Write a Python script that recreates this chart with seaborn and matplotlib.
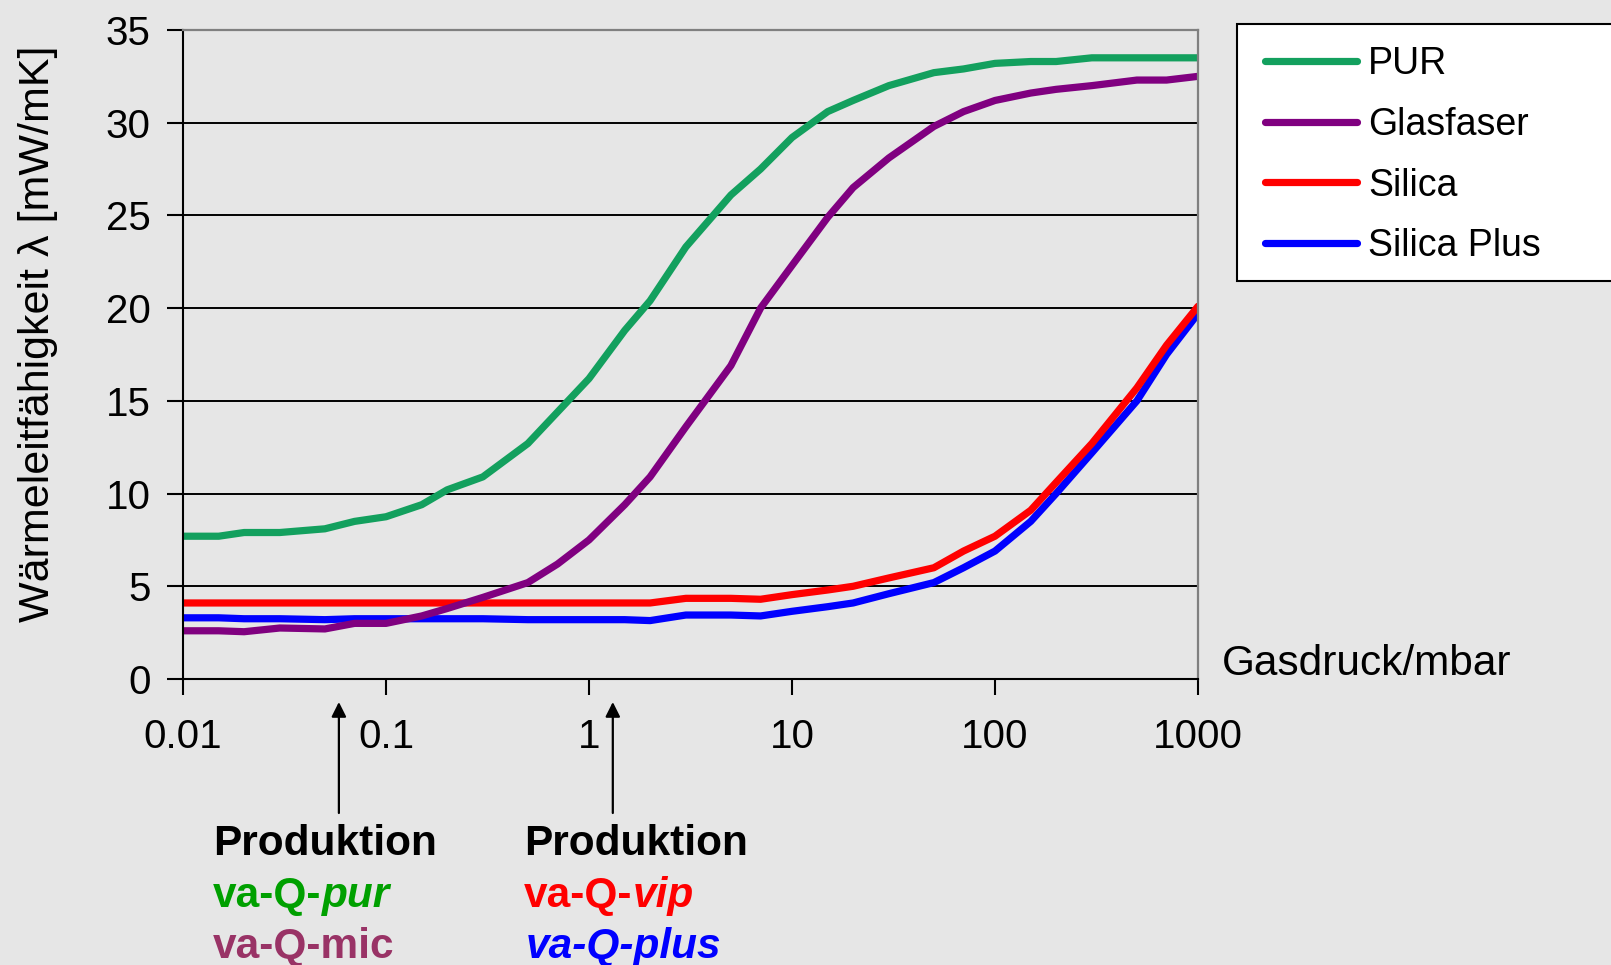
import pandas as pd
import matplotlib.pyplot as plt
import seaborn as sns
import numpy as np
from matplotlib.patches import Rectangle
from matplotlib.ticker import FixedLocator, FixedFormatter, NullLocator

# gas pressure in mbar (shared by all series)
pressure = [0.01, 0.015, 0.02, 0.03, 0.05, 0.07, 0.1, 0.15, 0.2, 0.3, 0.5, 0.7,
            1, 1.5, 2, 3, 5, 7, 10, 15, 20, 30, 50, 70, 100, 150, 200, 300, 500, 700, 1000]

# thermal conductivity in mW/mK
pur = [7.7, 7.7, 7.9, 7.9, 8.1, 8.5, 8.75, 9.4, 10.2, 10.9, 12.7, 14.4,
       16.2, 18.8, 20.4, 23.3, 26.1, 27.5, 29.2, 30.6, 31.2, 32.0, 32.7, 32.9, 33.2, 33.3, 33.3, 33.5, 33.5, 33.5, 33.5]
glasfaser = [2.6, 2.6, 2.55, 2.75, 2.7, 3.0, 3.0, 3.4, 3.8, 4.4, 5.2, 6.2,
             7.5, 9.4, 10.9, 13.6, 16.9, 20.0, 22.3, 24.9, 26.5, 28.1, 29.8, 30.6, 31.2, 31.6, 31.8, 32.0, 32.3, 32.3, 32.5]
silica = [4.1, 4.1, 4.1, 4.1, 4.1, 4.1, 4.1, 4.1, 4.1, 4.1, 4.1, 4.1,
          4.1, 4.1, 4.1, 4.35, 4.35, 4.3, 4.55, 4.8, 5.0, 5.45, 6.0, 6.9, 7.7, 9.1, 10.6, 12.7, 15.7, 18.0, 20.1]
silica_plus = [3.3, 3.3, 3.25, 3.25, 3.2, 3.25, 3.25, 3.25, 3.25, 3.25, 3.2, 3.2,
               3.2, 3.2, 3.15, 3.45, 3.45, 3.4, 3.65, 3.9, 4.1, 4.6, 5.2, 6.0, 6.9, 8.5, 10.0, 12.2, 15.0, 17.5, 19.7]

materials = ['PUR', 'Glasfaser', 'Silica', 'Silica Plus']
colors = {'PUR': '#13A05E', 'Glasfaser': '#800080', 'Silica': '#FF0000', 'Silica Plus': '#0000FF'}
draw_order = ['Silica Plus', 'Silica', 'PUR', 'Glasfaser']

x_ticks = [0.01, 0.1, 1, 10, 100, 1000]
x_tick_labels = ['0.01', '0.1', '1', '10', '100', '1000']
y_ticks = [0, 5, 10, 15, 20, 25, 30, 35]

# production pressures marked with arrows
arrow_pressures = [0.0586, 1.31]

# long-form table for seaborn
df = pd.DataFrame({
    'p': pressure * 4,
    'lam': pur + glasfaser + silica + silica_plus,
    'material': np.repeat(materials, len(pressure)),
})

bg = '#E6E6E6'
sns.set_theme(style='white', rc={'axes.facecolor': bg, 'figure.facecolor': bg,
                                 'text.color': 'black', 'axes.labelcolor': 'black',
                                 'xtick.color': 'black', 'ytick.color': 'black'})
plt.rcParams['font.family'] = ['Liberation Sans', 'DejaVu Sans']

W, H = 1611, 965
fig = plt.figure(figsize=(W / 100, H / 100), dpi=100)
ax = fig.add_axes([183 / W, 1 - 679 / H, (1198 - 183) / W, (679 - 30) / H])

sns.lineplot(data=df, x='p', y='lam', hue='material', hue_order=draw_order,
             palette=colors, linewidth=5.2, errorbar=None, legend=False, ax=ax)

ax.set_xscale('log')
ax.set_xlim(0.01, 1000)
ax.set_ylim(0, 35)
ax.xaxis.set_major_locator(FixedLocator(x_ticks))
ax.xaxis.set_major_formatter(FixedFormatter(x_tick_labels))
ax.xaxis.set_minor_locator(NullLocator())
ax.set_yticks(y_ticks)
ax.tick_params(axis='both', which='major', direction='out', length=11.3, width=1.5,
               color='black', labelsize=29, labelcolor='black')
ax.tick_params(axis='x', pad=17)
ax.tick_params(axis='y', pad=12)
ax.tick_params(left=True, bottom=True)

ax.grid(axis='y', color='black', linewidth=1.4)
ax.grid(axis='x', visible=False)
ax.set_axisbelow(True)

for side in ['left', 'bottom']:
    ax.spines[side].set_color('black')
    ax.spines[side].set_linewidth(1.5)
for side in ['top', 'right']:
    ax.spines[side].set_color('#808080')
    ax.spines[side].set_linewidth(1.6)
    ax.spines[side].set_visible(True)

ax.set_xlabel('')
ax.set_ylabel('Wärmeleitfähigkeit λ [mW/mK]', fontsize=31, color='black')
ax.yaxis.set_label_coords(-0.1236, 0.532)

# legend in PUR, Glasfaser, Silica, Silica Plus order
line_by_name = dict(zip(draw_order, ax.get_lines()))
handles = [line_by_name[m] for m in materials]
fig.add_artist(Rectangle((1237 / W, 1 - 281 / H), (1640 - 1237) / W, (281 - 24) / H,
                         transform=fig.transFigure, facecolor='white', edgecolor='black',
                         linewidth=1.5, zorder=1))
leg = fig.legend(handles, materials, loc='upper left', bbox_to_anchor=(1265 / W, 1 - 46 / H),
                 frameon=False, fontsize=27, handlelength=2.45, handletextpad=0.3,
                 labelspacing=0.66, borderpad=0, borderaxespad=0)
leg.set_zorder(2)
for lh in leg.legend_handles:
    lh.set_linewidth(5.2)

fig.text(1222 / W, 1 - 675 / H, 'Gasdruck/mbar', fontsize=30.5, va='baseline', ha='left')

# arrows below the x axis
for xp in arrow_pressures:
    ax.annotate('', xy=(xp, H - 702), xytext=(xp, H - 813),
                xycoords=('data', 'figure pixels'), textcoords=('data', 'figure pixels'),
                arrowprops=dict(arrowstyle='-|>', color='black', lw=1.6, mutation_scale=22,
                                shrinkA=0, shrinkB=0),
                annotation_clip=False)

# product labels, pieces with their own style
renderer = fig.canvas.get_renderer()


def text_pieces(x_px, base_px, pieces):
    x = x_px / W
    for s, color, style in pieces:
        t = fig.text(x, 1 - base_px / H, s, fontsize=30.5, fontweight='bold', fontstyle=style,
                     color=color, va='baseline', ha='left')
        bb = t.get_window_extent(renderer=renderer)
        x = bb.x1 / W


green_txt = '#00A000'
mic_txt = '#993366'
text_pieces(213, 855, [('Produktion', 'black', 'normal')])
text_pieces(213, 907, [('va-Q-', green_txt, 'normal'), ('pur', green_txt, 'italic')])
text_pieces(213, 958, [('va-Q-mic', mic_txt, 'normal')])
text_pieces(524, 855, [('Produktion', 'black', 'normal')])
text_pieces(524, 907, [('va-Q-', '#FF0000', 'normal'), ('vip', '#FF0000', 'italic')])
text_pieces(526, 958, [('va-Q-plus', '#0000FF', 'italic')])

fig.savefig('out.png', dpi=100, facecolor=bg)
plt.close()
